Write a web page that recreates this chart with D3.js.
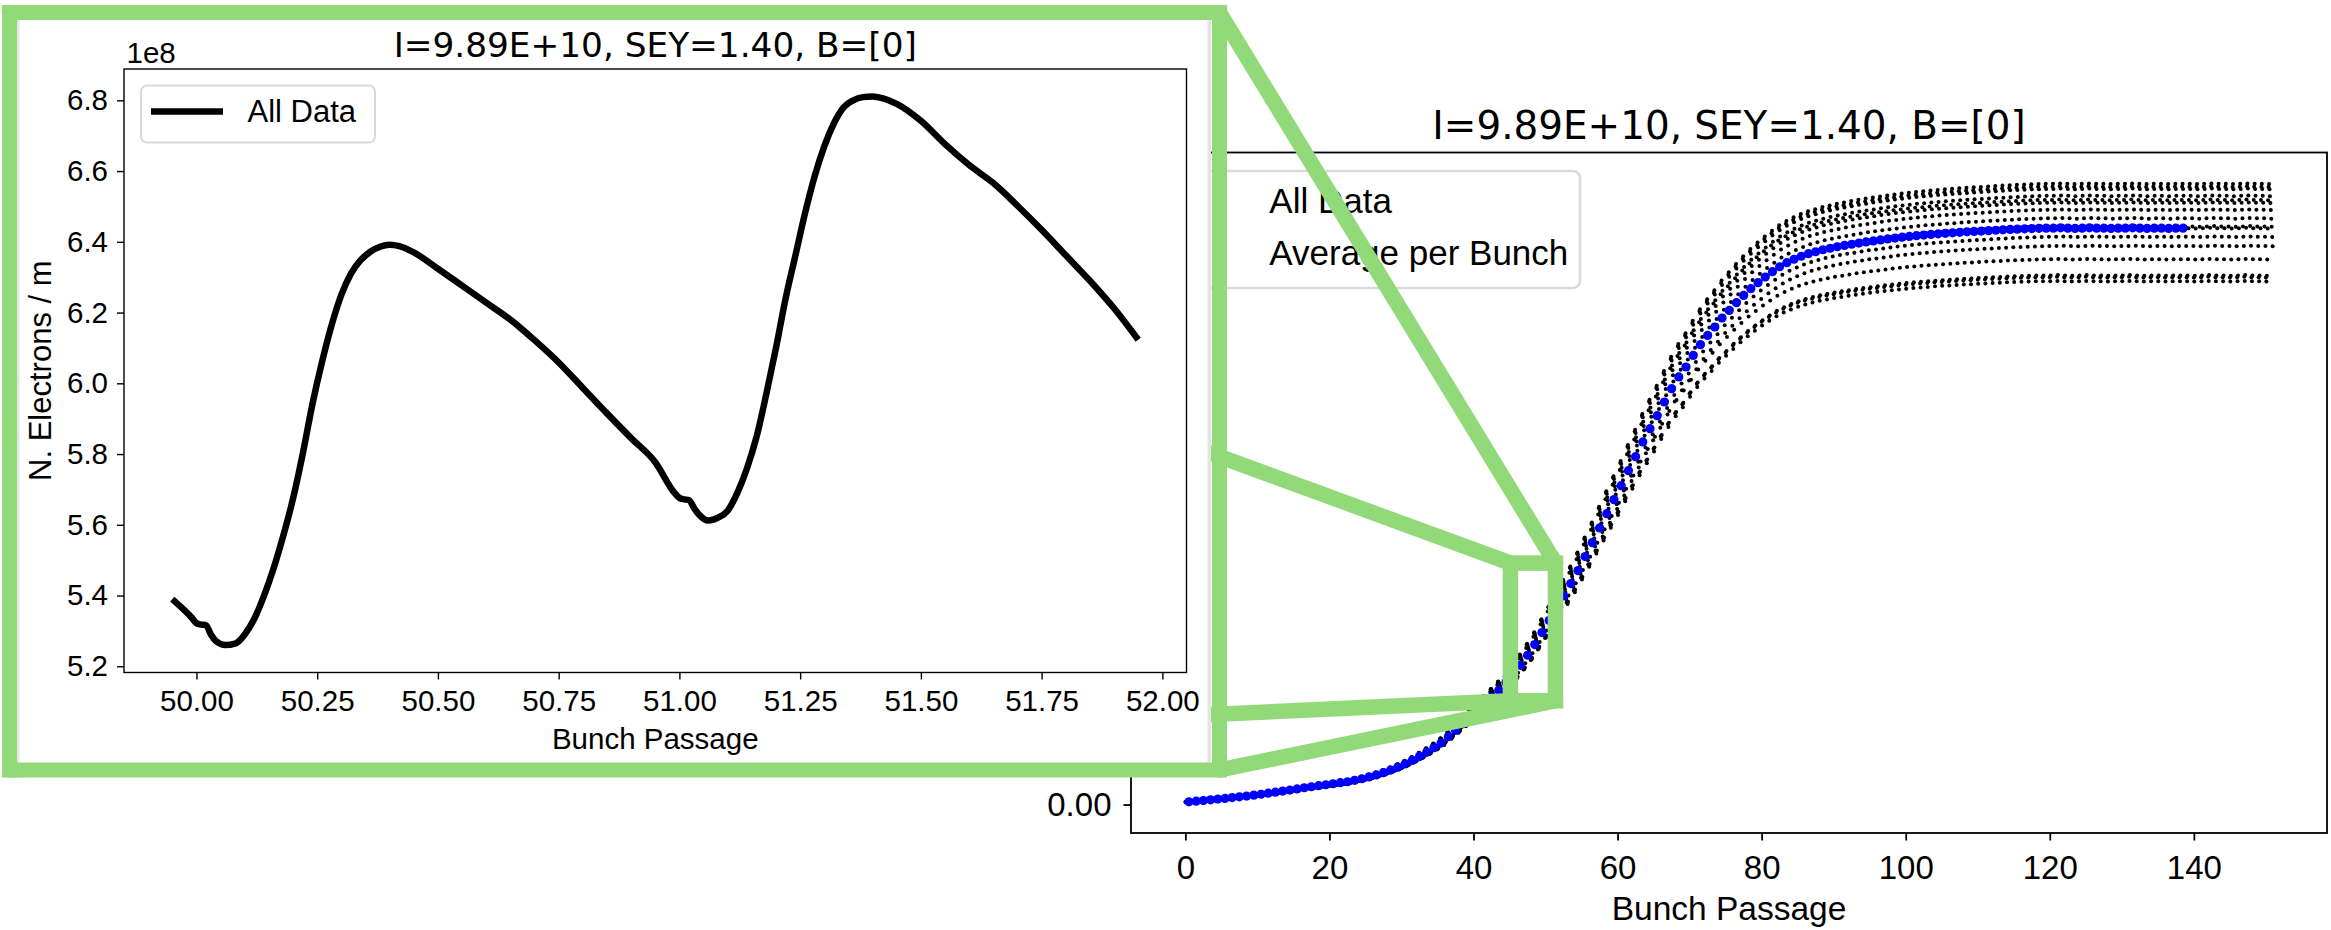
<!DOCTYPE html>
<html>
<head>
<meta charset="utf-8">
<script src="https://cdn.jsdelivr.net/npm/d3@7"></script>
<style>
  html, body { margin: 0; padding: 0; background: #ffffff; }
  svg { display: block; }
</style>
</head>
<body>
<svg id="chart" width="2331" height="930"></svg>
<script>
// ---------------------------------------------------------------------------
// Data (electron line density in units of 1e8 per metre)
// ---------------------------------------------------------------------------

// Average electron density for each bunch passage 0..138
const bunchAvg = [
  0.090, 0.110, 0.133, 0.157, 0.180, 0.203, 0.230, 0.257, 0.283, 0.313,
  0.343, 0.377, 0.410, 0.447, 0.483, 0.520, 0.560, 0.593, 0.627, 0.660,
  0.693, 0.727, 0.760, 0.807, 0.860, 0.920, 0.987, 1.063, 1.150, 1.247,
  1.353, 1.470, 1.600, 1.740, 1.893, 2.050, 2.260, 2.470, 2.690, 2.910,
  3.133, 3.360, 3.583, 3.810, 4.067, 4.343, 4.643, 4.977, 5.333, 5.733,
  6.133, 6.550, 6.957, 7.367, 7.800, 8.267, 8.733, 9.223, 9.700, 10.167,
  10.633, 11.133, 11.600, 12.090, 12.533, 12.967, 13.423, 13.867, 14.257, 14.590,
  14.977, 15.333, 15.643, 15.923, 16.223, 16.477, 16.733, 16.977, 17.200, 17.400,
  17.590, 17.767, 17.933, 18.067, 18.183, 18.283, 18.367, 18.433, 18.500, 18.550,
  18.600, 18.643, 18.683, 18.723, 18.760, 18.793, 18.827, 18.860, 18.890, 18.917,
  18.943, 18.967, 18.990, 19.010, 19.030, 19.047, 19.063, 19.080, 19.097, 19.110,
  19.123, 19.137, 19.150, 19.163, 19.177, 19.187, 19.197, 19.207, 19.213, 19.220,
  19.22, 19.23, 19.22, 19.21, 19.22, 19.23, 19.22, 19.22, 19.21, 19.22,
  19.22, 19.23, 19.22, 19.21, 19.22, 19.22, 19.21, 19.22, 19.22
];

// Saturated level of the last bunch passages 139..150 (no average recorded)
const tailLevel = [19.22, 19.21, 19.22, 19.23, 19.22, 19.22, 19.21, 19.22, 19.23, 19.22, 19.22, 19.21];

// Electron density at 16 sampling phases inside one bunch passage,
// as a fraction of that passage's level
const bunchProfile = [
  0.915, 0.908, 0.918, 0.946, 1.000, 1.049, 1.072, 1.077,
  1.068, 1.056, 1.044, 1.032, 1.017, 1.003, 0.985, 0.969
];

// Detailed record around passages 50-52
const insetX = [
  49.95, 49.97, 49.99, 50.00, 50.01, 50.02, 50.03, 50.04, 50.06, 50.08,
  50.10, 50.12, 50.14, 50.16, 50.18, 50.20, 50.22, 50.24, 50.26, 50.28,
  50.30, 50.32, 50.34, 50.36, 50.38, 50.40, 50.42, 50.45, 50.50, 50.55,
  50.60, 50.65, 50.70, 50.75, 50.80, 50.85, 50.90, 50.95, 50.99, 51.00,
  51.01, 51.02, 51.03, 51.04, 51.06, 51.08, 51.10, 51.12, 51.14, 51.16,
  51.18, 51.20, 51.22, 51.24, 51.26, 51.28, 51.30, 51.32, 51.34, 51.36,
  51.38, 51.40, 51.42, 51.45, 51.50, 51.55, 51.60, 51.65, 51.70, 51.75,
  51.80, 51.85, 51.90, 51.95
];
const insetY = [
  5.390, 5.365, 5.338, 5.322, 5.318, 5.316, 5.290, 5.272, 5.260, 5.264,
  5.290, 5.335, 5.400, 5.478, 5.570, 5.674, 5.800, 5.940, 6.060, 6.165,
  6.250, 6.310, 6.348, 6.372, 6.386, 6.392, 6.388, 6.370, 6.324, 6.276,
  6.228, 6.180, 6.122, 6.059, 5.987, 5.915, 5.845, 5.777, 5.690, 5.676,
  5.672, 5.670, 5.648, 5.630, 5.612, 5.620, 5.640, 5.690, 5.760, 5.850,
  5.970, 6.100, 6.240, 6.360, 6.480, 6.585, 6.670, 6.735, 6.780, 6.800,
  6.809, 6.811, 6.806, 6.790, 6.742, 6.676, 6.617, 6.566, 6.502, 6.434,
  6.362, 6.290, 6.212, 6.123
];

// Highlighted region of the overview (passage, 1e8 per metre)
const zoomRegionX = [45.13, 51.38];
const zoomRegionY = [3.46, 8.05];

// Tick values
const mainXTicks = [0, 20, 40, 60, 80, 100, 120, 140];
const mainYTicks = [0, 2.5, 5, 7.5, 10, 12.5, 15, 17.5, 20];
const insetXTicks = [50.00, 50.25, 50.50, 50.75, 51.00, 51.25, 51.50, 51.75, 52.00];
const insetYTicks = [5.2, 5.4, 5.6, 5.8, 6.0, 6.2, 6.4, 6.6, 6.8];

const titleText = "I=9.89E+10, SEY=1.40, B=[0]";
const xLabelText = "Bunch Passage";
const yLabelText = "N. Electrons / m";
const legendMain = ["All Data", "Average per Bunch"];

// ---------------------------------------------------------------------------
// Layout and style
// ---------------------------------------------------------------------------
const LABEL_FONT = '"Liberation Sans", Arial, sans-serif';
const TITLE_FONT = '"DejaVu Sans", sans-serif';
const GREEN = "#92d97a";
const GREEN_W = 15.5;

const mainBox = { left: 1131, right: 2327, top: 152.5, bottom: 833 };
const insetBox = { left: 124, right: 1186.5, top: 69, bottom: 672.5 };
const frame = { x0: 9.5, y0: 12.5, x1: 1219.5, y1: 770 };

const svg = d3.select("#chart");

function padded(ext) {
  const r = ext[1] - ext[0];
  return [ext[0] - 0.05 * r, ext[1] + 0.05 * r];
}

function styleAxis(g, fontSize, lineW) {
  g.select(".domain").remove();
  g.selectAll(".tick line").attr("stroke", "#000").attr("stroke-width", lineW);
  g.selectAll(".tick text")
    .attr("fill", "#000")
    .style("font-family", LABEL_FONT)
    .style("font-size", fontSize + "px");
}

// ---------------------------------------------------------------------------
// Overview panel
// ---------------------------------------------------------------------------
const levels = bunchAvg.concat(tailLevel);
const allData = [];
levels.forEach((lv, n) => {
  bunchProfile.forEach((f, k) => {
    allData.push({ x: n + k / bunchProfile.length, y: lv * f });
  });
});
const avgData = bunchAvg.map((v, n) => ({ x: n + 0.5, y: v }));

const both = allData.concat(avgData);
const mx = d3.scaleLinear().domain(padded(d3.extent(both, d => d.x))).range([mainBox.left, mainBox.right]);
const my = d3.scaleLinear().domain(padded(d3.extent(both, d => d.y))).range([mainBox.bottom, mainBox.top]);

const gMain = svg.append("g");

gMain.append("g")
  .attr("transform", `translate(0,${mainBox.bottom})`)
  .call(d3.axisBottom(mx).tickValues(mainXTicks).tickSize(7.5).tickPadding(15).tickFormat(d3.format("d")))
  .call(styleAxis, 33, 1.8);

gMain.append("g")
  .attr("transform", `translate(${mainBox.left},0)`)
  .call(d3.axisLeft(my).tickValues(mainYTicks).tickSize(7.5).tickPadding(12).tickFormat(v => (v / 10).toFixed(2)))
  .call(styleAxis, 33, 1.8);

// scientific offset and axis labels
gMain.append("text")
  .attr("x", mainBox.left).attr("y", mainBox.top - 8)
  .style("font-family", LABEL_FONT).style("font-size", "33px")
  .text("1e9");

gMain.append("text")
  .attr("transform", `translate(${mainBox.left - 105},${(mainBox.top + mainBox.bottom) / 2}) rotate(-90)`)
  .attr("text-anchor", "middle")
  .style("font-family", LABEL_FONT).style("font-size", "34px")
  .text(yLabelText);

gMain.append("text")
  .attr("x", (mainBox.left + mainBox.right) / 2).attr("y", 920)
  .attr("text-anchor", "middle")
  .style("font-family", LABEL_FONT).style("font-size", "33.5px")
  .text(xLabelText);

gMain.append("text")
  .attr("x", (mainBox.left + mainBox.right) / 2).attr("y", 139)
  .attr("text-anchor", "middle")
  .style("font-family", TITLE_FONT).style("font-size", "38.9px")
  .text(titleText);

// all samples
gMain.append("g")
  .selectAll("circle")
  .data(allData)
  .join("circle")
  .attr("cx", d => mx(d.x))
  .attr("cy", d => my(d.y))
  .attr("r", 2.0)
  .attr("fill", "#000");

// per-bunch averages
gMain.append("g")
  .selectAll("circle")
  .data(avgData)
  .join("circle")
  .attr("cx", d => mx(d.x))
  .attr("cy", d => my(d.y))
  .attr("r", 4.6)
  .attr("fill", "#0000ff");

// axes frame
gMain.append("rect")
  .attr("x", mainBox.left).attr("y", mainBox.top)
  .attr("width", mainBox.right - mainBox.left).attr("height", mainBox.bottom - mainBox.top)
  .attr("fill", "none").attr("stroke", "#000").attr("stroke-width", 1.8);

// legend
const lgM = gMain.append("g");
lgM.append("rect")
  .attr("x", 1143).attr("y", 171).attr("width", 437).attr("height", 117)
  .attr("rx", 7)
  .attr("fill", "#fff").attr("fill-opacity", 0.8)
  .attr("stroke", "#d9d9d9").attr("stroke-width", 2.5);
lgM.append("circle").attr("cx", 1200).attr("cy", 203).attr("r", 2.0).attr("fill", "#000");
lgM.append("circle").attr("cx", 1200).attr("cy", 255).attr("r", 4.6).attr("fill", "#0000ff");
legendMain.forEach((t, i) => {
  lgM.append("text")
    .attr("x", 1269.3).attr("y", 213.3 + i * 51.7)
    .style("font-family", LABEL_FONT).style("font-size", "35px")
    .text(t);
});

// ---------------------------------------------------------------------------
// Highlight box and connector lines
// ---------------------------------------------------------------------------
const zb = {
  x0: mx(zoomRegionX[0]), x1: mx(zoomRegionX[1]),
  y0: my(zoomRegionY[1]), y1: my(zoomRegionY[0])
};
const connectors = [
  [[frame.x0, frame.y0], [zb.x0, zb.y0]],
  [[frame.x1, frame.y0], [zb.x1, zb.y0]],
  [[frame.x0, frame.y1], [zb.x0, zb.y1]],
  [[frame.x1, frame.y1], [zb.x1, zb.y1]]
];
const gLinks = svg.append("g");
gLinks.selectAll("path")
  .data(connectors)
  .join("path")
  .attr("d", d3.line())
  .attr("fill", "none")
  .attr("stroke", GREEN)
  .attr("stroke-width", GREEN_W)
  .attr("stroke-linecap", "round");
gLinks.append("rect")
  .attr("x", zb.x0).attr("y", zb.y0)
  .attr("width", zb.x1 - zb.x0).attr("height", zb.y1 - zb.y0)
  .attr("fill", "none").attr("stroke", GREEN).attr("stroke-width", GREEN_W);

// ---------------------------------------------------------------------------
// Magnified panel
// ---------------------------------------------------------------------------
const gIn = svg.append("g");
gIn.append("rect")
  .attr("x", 17).attr("y", 20).attr("width", 1194).attr("height", 743)
  .attr("fill", "#fff");
gIn.append("rect").attr("x", 17).attr("y", 20).attr("width", 2.5).attr("height", 743).attr("fill", "#e4e4e4");
gIn.append("rect").attr("x", 1207.5).attr("y", 20).attr("width", 3.5).attr("height", 743).attr("fill", "#e4e4e4");

const ix = d3.scaleLinear().domain(padded(d3.extent(insetX))).range([insetBox.left, insetBox.right]);
const iy = d3.scaleLinear().domain(padded(d3.extent(insetY))).range([insetBox.bottom, insetBox.top]);

gIn.append("g")
  .attr("transform", `translate(0,${insetBox.bottom})`)
  .call(d3.axisBottom(ix).tickValues(insetXTicks).tickSize(7).tickPadding(10.5).tickFormat(d3.format(".2f")))
  .call(styleAxis, 29.5, 1.4);

gIn.append("g")
  .attr("transform", `translate(${insetBox.left},0)`)
  .call(d3.axisLeft(iy).tickValues(insetYTicks).tickSize(7).tickPadding(9).tickFormat(d3.format(".1f")))
  .call(styleAxis, 29.5, 1.4);

gIn.append("text")
  .attr("x", 126.5).attr("y", 63)
  .style("font-family", LABEL_FONT).style("font-size", "29.5px")
  .text("1e8");

gIn.append("text")
  .attr("x", (insetBox.left + insetBox.right) / 2).attr("y", 56.5)
  .attr("text-anchor", "middle")
  .style("font-family", TITLE_FONT).style("font-size", "34.3px")
  .text(titleText);

gIn.append("text")
  .attr("x", (insetBox.left + insetBox.right) / 2).attr("y", 749)
  .attr("text-anchor", "middle")
  .style("font-family", LABEL_FONT).style("font-size", "29.5px")
  .text(xLabelText);

gIn.append("text")
  .attr("transform", `translate(50.6,370.7) rotate(-90)`)
  .attr("text-anchor", "middle")
  .style("font-family", LABEL_FONT).style("font-size", "31px")
  .text(yLabelText);

const insetPts = insetX.map((x, i) => [x, insetY[i]]);
gIn.append("path")
  .datum(insetPts)
  .attr("d", d3.line().x(d => ix(d[0])).y(d => iy(d[1])).curve(d3.curveMonotoneX))
  .attr("fill", "none")
  .attr("stroke", "#000")
  .attr("stroke-width", 6.5)
  .attr("stroke-linejoin", "round")
  .attr("stroke-linecap", "butt");

gIn.append("rect")
  .attr("x", insetBox.left).attr("y", insetBox.top)
  .attr("width", insetBox.right - insetBox.left).attr("height", insetBox.bottom - insetBox.top)
  .attr("fill", "none").attr("stroke", "#000").attr("stroke-width", 1.4);

const lgI = gIn.append("g");
lgI.append("rect")
  .attr("x", 141).attr("y", 85.6).attr("width", 234).attr("height", 57)
  .attr("rx", 6)
  .attr("fill", "#fff").attr("fill-opacity", 0.8)
  .attr("stroke", "#d9d9d9").attr("stroke-width", 2);
lgI.append("line")
  .attr("x1", 151).attr("x2", 223).attr("y1", 111.5).attr("y2", 111.5)
  .attr("stroke", "#000").attr("stroke-width", 6.5);
lgI.append("text")
  .attr("x", 247.5).attr("y", 122.4)
  .style("font-family", LABEL_FONT).style("font-size", "31px")
  .text(legendMain[0]);

// green frame around the magnified panel
svg.append("rect")
  .attr("x", frame.x0).attr("y", frame.y0)
  .attr("width", frame.x1 - frame.x0).attr("height", frame.y1 - frame.y0)
  .attr("fill", "none").attr("stroke", GREEN).attr("stroke-width", 15);
</script>
</body>
</html>
